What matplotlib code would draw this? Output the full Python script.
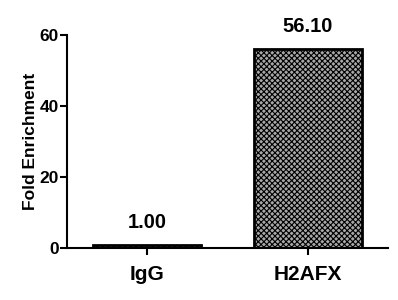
import matplotlib
matplotlib.use("Agg")
import matplotlib.pyplot as plt

categories = ["IgG", "H2AFX"]
values = [1.00, 56.10]
value_labels = ["1.00", "56.10"]
yticks = [0, 20, 40, 60]

plt.rcParams['font.family'] = ['Liberation Sans', 'DejaVu Sans']
plt.rcParams['hatch.linewidth'] = 0.8

fig = plt.figure(figsize=(3.98, 3.0), dpi=100)
ax = fig.add_axes([0.168, 0.173, 0.807, 0.71])

x = list(range(len(categories)))
bars = ax.bar(x, values, width=0.675, facecolor='#a8a8a8', edgecolor='black',
              linewidth=2.0, hatch='xxxxxx')
for xi, v, lab in zip(x, values, value_labels):
    ax.annotate(lab, (xi, v), xytext=(0, 9), textcoords='offset points',
                ha='center', va='bottom', fontsize=14.5, fontweight='bold')

ax.set_xlim(-0.5, 1.5)
ax.set_ylim(0, 60)
ax.set_yticks(yticks)
ax.set_xticks(x)
ax.set_xticklabels(categories, fontsize=15, fontweight='bold')
ax.set_yticklabels([str(t) for t in yticks], fontsize=12.5, fontweight='bold')
ax.set_ylabel("Fold Enrichment", fontsize=12.5, fontweight='bold', labelpad=1)
for s in ['top', 'right']:
    ax.spines[s].set_visible(False)
for s in ['left', 'bottom']:
    ax.spines[s].set_linewidth(1.5)
ax.tick_params(axis='both', width=1.5, length=5, direction='out')
ax.tick_params(axis='x', pad=7)
ax.tick_params(axis='y', pad=1)

fig.savefig("out.png", dpi=100)
